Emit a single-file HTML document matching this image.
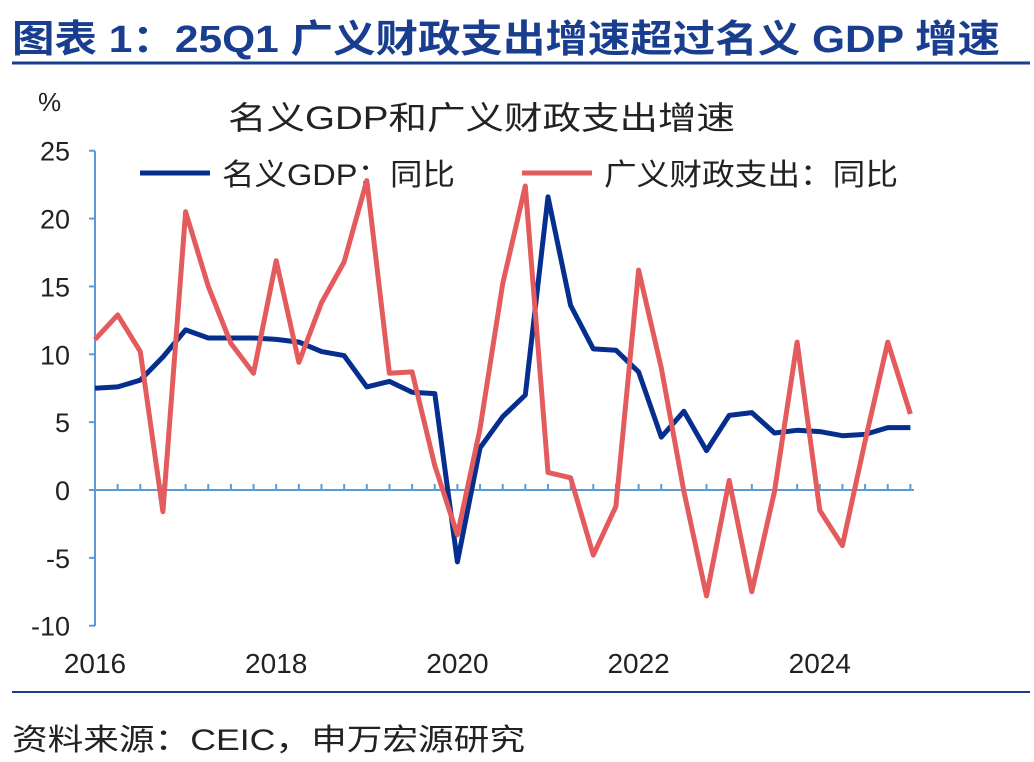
<!DOCTYPE html>
<html><head><meta charset="utf-8">
<style>
body{margin:0;width:1034px;height:757px;background:#fff;overflow:hidden;font-family:"Liberation Sans","Noto Sans CJK SC",sans-serif;}
</style></head><body>
<svg id="s" width="1034" height="757" xmlns="http://www.w3.org/2000/svg" font-family="Liberation Sans, Noto Sans CJK SC, sans-serif">
<text x="12" y="52" font-size="38" font-weight="bold" fill="#1a3e8f" textLength="988" lengthAdjust="spacingAndGlyphs">图表 1：25Q1 广义财政支出增速超过名义 GDP 增速</text>
<line x1="12" y1="63" x2="1030" y2="63" stroke="#1a3e8f" stroke-width="3"/>
<text x="38" y="111" font-size="26" fill="#222">%</text>
<text x="228" y="129" font-size="32" fill="#222" textLength="507" lengthAdjust="spacingAndGlyphs">名义GDP和广义财政支出增速</text>
<line x1="140" y1="173" x2="210" y2="173" stroke="#062e8f" stroke-width="5"/>
<text x="222" y="185" font-size="30" fill="#222" textLength="233" lengthAdjust="spacingAndGlyphs">名义GDP：同比</text>
<line x1="522" y1="173" x2="592" y2="173" stroke="#e45b5e" stroke-width="5"/>
<text x="604" y="185" font-size="30" fill="#222" textLength="294" lengthAdjust="spacingAndGlyphs">广义财政支出：同比</text>
<line x1="95" y1="151" x2="95" y2="626" stroke="#5b9bd5" stroke-width="2"/>
<line x1="95" y1="490" x2="914" y2="490" stroke="#5b9bd5" stroke-width="2"/>
<g id="g"></g>
<line x1="12" y1="692" x2="1030" y2="692" stroke="#1a3e8f" stroke-width="2"/>
<text x="12" y="750" font-size="30" fill="#222" textLength="513" lengthAdjust="spacingAndGlyphs">资料来源：CEIC，申万宏源研究</text>
</svg>
<script>
var g=document.getElementById('g'),h='';
function Y(v){return 490-v*13.571;}
function X(i){return 95+i*22.65;}
[25,20,15,10,5,0,-5,-10].forEach(function(v){h+='<text x="70" y="'+(Y(v)+10)+'" font-size="27" fill="#222" text-anchor="end">'+v+'</text>';h+='<line x1="89" y1="'+Y(v)+'" x2="95" y2="'+Y(v)+'" stroke="#5b9bd5" stroke-width="2"/>';});
for(var i=0;i<=36;i++)h+='<line x1="'+X(i)+'" y1="484" x2="'+X(i)+'" y2="490" stroke="#5b9bd5" stroke-width="2"/>';
[2016,2018,2020,2022,2024].forEach(function(y,k){h+='<text x="'+X(k*8)+'" y="673" font-size="28" fill="#222" text-anchor="middle">'+y+'</text>';});
var gdp=[7.5,7.6,8.1,9.8,11.8,11.2,11.2,11.2,11.1,10.9,10.2,9.9,7.6,8.0,7.2,7.1,-5.3,3.1,5.4,7.0,21.6,13.6,10.4,10.3,8.7,3.9,5.8,2.9,5.5,5.7,4.2,4.4,4.3,4.0,4.1,4.6,4.6];
var fis=[11.1,12.9,10.2,-1.6,20.5,15.0,10.8,8.6,16.9,9.4,13.8,16.8,22.8,8.6,8.7,1.8,-3.3,4.5,15.2,22.4,1.3,0.9,-4.8,-1.2,16.2,9.0,-0.1,-7.8,0.7,-7.5,-0.1,10.9,-1.5,-4.1,3.6,10.9,5.6];
function pl(d,c){return '<polyline fill="none" stroke="'+c+'" stroke-width="5" stroke-linejoin="round" points="'+d.map(function(v,i){return X(i).toFixed(1)+','+Y(v).toFixed(1)}).join(' ')+'"/>';}
h+=pl(gdp,'#062e8f')+pl(fis,'#e45b5e');
g.innerHTML=h;
</script>
</body></html>
